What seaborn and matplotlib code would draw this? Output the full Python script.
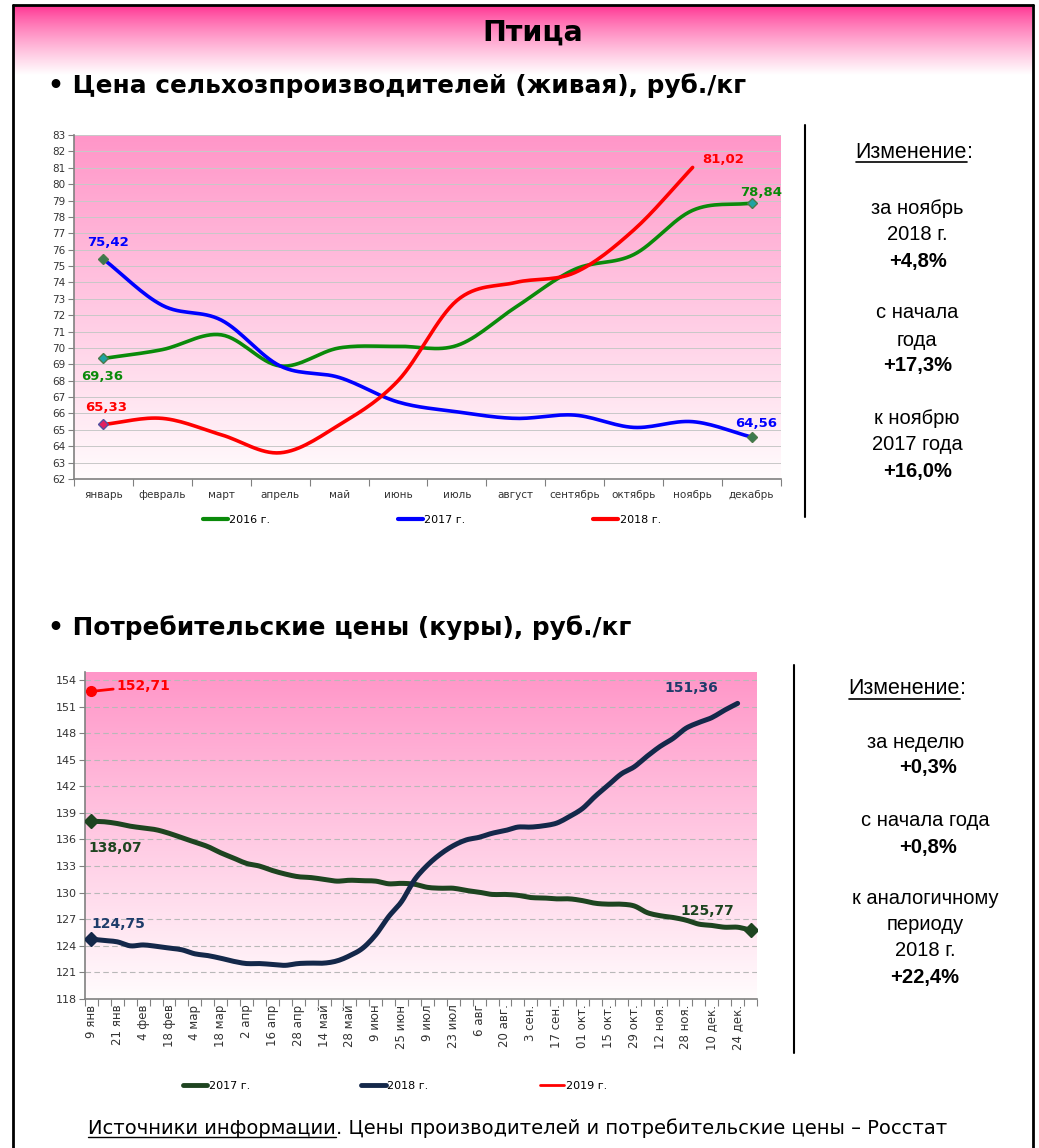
import numpy as np
import pandas as pd
import matplotlib
matplotlib.use("Agg")
import matplotlib.pyplot as plt
from matplotlib.lines import Line2D
import seaborn as sns

sns.set_style("white")
plt.rcParams["font.family"] = ["DejaVu Sans"]
plt.rcParams["text.color"] = "black"
plt.rcParams["xtick.color"] = "#333333"
plt.rcParams["ytick.color"] = "#333333"

# ---- данные: цена сельхозпроизводителей (живая), руб./кг
months = ["январь", "февраль", "март", "апрель", "май", "июнь", "июль",
          "август", "сентябрь", "октябрь", "ноябрь", "декабрь"]
prod_2016 = [69.36, 69.9, 70.8, 68.9, 70.0, 70.1, 70.15, 72.5, 74.8, 75.7, 78.4, 78.84]
prod_2017 = [75.42, 72.6, 71.7, 68.9, 68.2, 66.7, 66.1, 65.7, 65.9, 65.15, 65.5, 64.56]
prod_2018 = [65.33, 65.7, 64.7, 63.6, 65.3, 68.0, 72.9, 74.0, 74.6, 77.2, 81.02]

# ---- данные: потребительские цены (куры), руб./кг, по неделям
week_labels = ["9 янв", "21 янв", "4 фев", "18 фев", "4 мар", "18 мар", "2 апр",
               "16 апр", "28 апр", "14 май", "28 май", "9 июн", "25 июн", "9 июл",
               "23 июл", "6 авг", "20 авг.", "3 сен.", "17 сен.", "01 окт.",
               "15 окт.", "29 окт.", "12 ноя.", "28 ноя.", "10 дек.", "24 дек."]
cons_2017 = [138.07, 138.0, 137.8, 137.5, 137.3, 137.1, 136.7, 136.2, 135.7, 135.2,
             134.5, 133.9, 133.3, 133.0, 132.5, 132.1, 131.8, 131.7, 131.5, 131.3,
             131.4, 131.35, 131.3, 131.0, 131.05, 130.95, 130.6, 130.5, 130.5, 130.25,
             130.05, 129.8, 129.8, 129.7, 129.45, 129.4, 129.3, 129.3, 129.1, 128.8,
             128.7, 128.7, 128.5, 127.75, 127.4, 127.2, 126.9, 126.45, 126.3, 126.1,
             126.1, 125.77]
cons_2018 = [124.75, 124.6, 124.45, 124.0, 124.1, 123.95, 123.75, 123.55, 123.1, 122.9,
             122.6, 122.25, 122.0, 122.0, 121.9, 121.8, 122.0, 122.05, 122.05, 122.3,
             122.9, 123.75, 125.25, 127.3, 129.0, 131.45, 133.1, 134.35, 135.3, 135.95,
             136.25, 136.7, 137.0, 137.4, 137.4, 137.55, 137.85, 138.6, 139.5, 140.9,
             142.15, 143.4, 144.2, 145.4, 146.5, 147.4, 148.55, 149.2, 149.75, 150.6,
             151.36]
cons_2019 = [152.71]

W, H = 1039, 1148
fig = plt.figure(figsize=(W / 100, H / 100), dpi=100)


def fx(px):
    return px / W


def fy(py):
    return 1 - py / H


def smooth(y, n=16):
    # сглаженная линия (как в Excel) через точки ряда
    x = np.arange(len(y), dtype=float)
    y = np.asarray(y, dtype=float)
    if len(y) < 3:
        return x, y
    px = np.r_[2 * x[0] - x[1], x, 2 * x[-1] - x[-2]]
    py = np.r_[2 * y[0] - y[1], y, 2 * y[-1] - y[-2]]
    t = np.linspace(0, 1, n, endpoint=False)[:, None]
    xs, ys = [], []
    for i in range(1, len(x)):
        for arr, out in ((px, xs), (py, ys)):
            p0, p1, p2, p3 = arr[i - 1], arr[i], arr[i + 1], arr[i + 2]
            v = 0.5 * ((2 * p1) + (-p0 + p2) * t + (2 * p0 - 5 * p1 + 4 * p2 - p3) * t ** 2
                       + (-p0 + 3 * p1 - 3 * p2 + p3) * t ** 3)
            out.extend(v.ravel())
    xs.append(x[-1])
    ys.append(y[-1])
    return np.array(xs), np.array(ys)


def gradient(ax, top, bottom, extent):
    g = np.linspace(0, 1, 256)[:, None, None]
    img = np.array(top)[None, None, :] * (1 - g) + np.array(bottom)[None, None, :] * g
    ax.imshow(img / 255, extent=extent, aspect="auto", zorder=0, interpolation="bicubic")


def underline(txt, lw=1.2):
    fig.canvas.draw()
    bb = txt.get_window_extent()
    yline = bb.y0 + 1
    fig.add_artist(Line2D([bb.x0 / W, bb.x1 / W], [yline / H, yline / H],
                          color="black", lw=lw))


# ---- рамка и шапка
hax = fig.add_axes([fx(14), fy(75), fx(1032) - fx(14), fy(6) - fy(75)])
g = np.linspace(0, 1, 200)[:, None, None] ** 0.8
hdr = np.array([255, 50, 145])[None, None, :] * (1 - g) + np.array([255, 255, 255])[None, None, :] * g
hax.imshow(hdr / 255, aspect="auto", extent=[0, 1, 0, 1])
hax.axis("off")

for xs_, ys_ in (([13, 1033], [5, 5]), ([13, 13], [5, 1148]), ([1033, 1033], [5, 1148])):
    fig.add_artist(Line2D([fx(v) for v in xs_], [fy(v) for v in ys_], color="black", lw=2))

fig.text(fx(533), fy(33), "Птица", ha="center", va="center", fontsize=20.5, weight="bold")
fig.text(fx(48), fy(86), "• Цена сельхозпроизводителей (живая), руб./кг",
         ha="left", va="center", fontsize=17.8, weight="bold")
fig.text(fx(48), fy(628), "• Потребительские цены (куры), руб./кг",
         ha="left", va="center", fontsize=17.8, weight="bold")

# ---- верхний график
ax1 = fig.add_axes([fx(74), fy(479), fx(781) - fx(74), fy(135) - fy(479)])
gradient(ax1, (255, 150, 200), (255, 252, 253), [-0.5, 11.5, 62, 83])
ax1.set_xlim(-0.5, 11.5)
ax1.set_ylim(62, 83)
ax1.set_yticks(range(62, 84))
ax1.tick_params(axis="y", labelsize=7.5, length=4, color="#808080", left=True, pad=2)
ax1.set_xticks(np.arange(-0.5, 12, 1))
ax1.set_xticklabels([])
ax1.set_xticks(range(12), minor=True)
ax1.set_xticklabels(months, minor=True, fontsize=7.5)
ax1.tick_params(axis="x", which="major", length=5, color="#808080", bottom=True, direction="out")
ax1.tick_params(axis="x", which="minor", length=0, pad=8)
for v in range(63, 84):
    ax1.axhline(v, color="#C8C8C8", lw=0.7, zorder=1)
for s in ("top", "right"):
    ax1.spines[s].set_visible(False)
for s in ("left", "bottom"):
    ax1.spines[s].set_color("#808080")
    ax1.spines[s].set_linewidth(1.2)

series1 = [(prod_2016, "#0A8A0A", "2016 г."), (prod_2017, "#0000FF", "2017 г."),
           (prod_2018, "#FF0000", "2018 г.")]
for vals, col, lab in series1:
    sx, sy = smooth(vals)
    sns.lineplot(x=sx, y=sy, ax=ax1, color=col, lw=2.6, estimator=None, sort=False, zorder=3)

ax1.plot([0, 11], [prod_2016[0], prod_2016[-1]], ls="none", marker="D", ms=5,
         color="#1FA3A3", mec="#4A7A4A", zorder=4)
ax1.plot([0, 11], [prod_2017[0], prod_2017[-1]], ls="none", marker="D", ms=5,
         color="#3C7A50", mec="#4A7A4A", zorder=4)
ax1.plot([0], [prod_2018[0]], ls="none", marker="D", ms=5, color="#E02060",
         mec="#5050A0", zorder=4)

lab_kw = dict(textcoords="offset points", fontsize=9.5, weight="bold", zorder=5)
fmt = lambda v: f"{v:.2f}".replace(".", ",")
ax1.annotate(fmt(prod_2017[0]), (0, prod_2017[0]), xytext=(3, 7), ha="center",
             va="bottom", color="#0000FF", **lab_kw)
ax1.annotate(fmt(prod_2016[0]), (0, prod_2016[0]), xytext=(-1, -13), ha="center",
             va="center", color="#0A8A0A", **lab_kw)
ax1.annotate(fmt(prod_2018[0]), (0, prod_2018[0]), xytext=(2, 12), ha="center",
             va="center", color="#FF0000", **lab_kw)
ax1.annotate(fmt(prod_2018[-1]), (10, prod_2018[-1]), xytext=(7, 6), ha="left",
             va="center", color="#FF0000", **lab_kw)
ax1.annotate(fmt(prod_2016[-1]), (11, prod_2016[-1]), xytext=(7, 8), ha="center",
             va="center", color="#0A8A0A", **lab_kw)
ax1.annotate(fmt(prod_2017[-1]), (11, prod_2017[-1]), xytext=(3, 10), ha="center",
             va="center", color="#0000FF", **lab_kw)

h1 = [Line2D([], [], color=c, lw=3) for _, c, _ in series1]
fig.legend(h1, [l for _, _, l in series1], loc="center", bbox_to_anchor=(fx(432), fy(520)),
           ncol=3, frameon=False, fontsize=8, handlelength=2.2, handletextpad=0.15,
           columnspacing=11.5)

# ---- нижний график
ax2 = fig.add_axes([fx(85), fy(999), fx(757) - fx(85), fy(672) - fy(999)])
gradient(ax2, (255, 150, 200), (255, 252, 253), [-0.5, 51.5, 118, 154.9])
ax2.set_xlim(-0.5, 51.5)
ax2.set_ylim(118, 154.9)
ax2.set_yticks(range(118, 155, 3))
ax2.tick_params(axis="y", labelsize=8, length=4, color="#808080", left=True, pad=2)
ax2.set_xticks(np.arange(-0.5, 52, 1))
ax2.set_xticklabels([])
ax2.set_xticks(range(0, 51, 2), minor=True)
ax2.set_xticklabels(week_labels, minor=True, rotation=90, fontsize=8.5, va="top")
ax2.tick_params(axis="x", which="major", length=5, color="#808080", bottom=True, direction="out")
ax2.tick_params(axis="x", which="minor", length=0, pad=4)
for v in range(121, 155, 3):
    ax2.axhline(v, color="#B8B8B8", lw=0.8, ls=(0, (5, 3)), zorder=1)
for s in ("top", "right"):
    ax2.spines[s].set_visible(False)
for s in ("left", "bottom"):
    ax2.spines[s].set_color("#808080")
    ax2.spines[s].set_linewidth(1.2)

c17, c18, c19 = "#1E4420", "#14284A", "#FF0000"
for vals, col in ((cons_2017, c17), (cons_2018, c18)):
    sx, sy = smooth(vals, n=6)
    sns.lineplot(x=sx, y=sy, ax=ax2, color=col, lw=3.6, estimator=None, sort=False, zorder=3)
ax2.plot([0, 51], [cons_2017[0], cons_2017[-1]], ls="none", marker="D", ms=7, color=c17, zorder=4)
ax2.plot([0], [cons_2018[0]], ls="none", marker="D", ms=7, color=c18, zorder=4)
ax2.plot([0], [cons_2019[0]], ls="none", marker="o", ms=7, color=c19, zorder=4)

lab2 = dict(textcoords="offset points", fontsize=10, weight="bold", zorder=5)
ax2.annotate(fmt(cons_2019[0]), (0, cons_2019[0]), xytext=(18, 4), ha="left", va="center",
             color=c19, arrowprops=dict(arrowstyle="-", color=c19, lw=2, shrinkA=0, shrinkB=2),
             **lab2)
ax2.annotate(fmt(cons_2017[0]), (0, cons_2017[0]), xytext=(-2, -19), ha="left",
             va="center", color=c17, **lab2)
ax2.annotate(fmt(cons_2018[0]), (0, cons_2018[0]), xytext=(0, 11), ha="left",
             va="center", color="#1E3C6A", **lab2)
ax2.annotate(fmt(cons_2018[-1]), (50, cons_2018[-1]), xytext=(-14, 11), ha="right",
             va="center", color="#1E3C6A", **lab2)
ax2.annotate(fmt(cons_2017[-1]), (51, cons_2017[-1]), xytext=(-12, 14), ha="right",
             va="center", color=c17, **lab2)

h2 = [Line2D([], [], color=c, lw=lw) for c, lw in ((c17, 3.5), (c18, 3.5), (c19, 2))]
fig.legend(h2, ["2017 г.", "2018 г.", "2019 г."], loc="center",
           bbox_to_anchor=(fx(395), fy(1086)), ncol=3, frameon=False, fontsize=8,
           handlelength=2.2, handletextpad=0.15, columnspacing=10)

# ---- правые панели
for xline, y0, y1 in ((805, 125, 517), (794, 665, 1053)):
    fig.add_artist(Line2D([fx(xline)] * 2, [fy(y0), fy(y1)], color="black", lw=1.5))

side = dict(family=["Liberation Sans", "DejaVu Sans"], fontsize=14.5, va="center")


def heading(xc, yy):
    t = fig.text(fx(xc), fy(yy), "Изменение", ha="right", fontsize=15.5,
                 family=["Liberation Sans", "DejaVu Sans"], va="center")
    fig.text(fx(xc), fy(yy), ":", ha="left", fontsize=15.5,
             family=["Liberation Sans", "DejaVu Sans"], va="center")
    return t


t1 = heading(967, 152)
rows1 = [("за ноябрь", 209, "normal"), ("2018 г.", 234, "normal"), ("+4,8%", 261, "bold"),
         ("с начала", 313, "normal"), ("года", 340, "normal"), ("+17,3%", 366, "bold"),
         ("к ноябрю", 419, "normal"), ("2017 года", 445, "normal"), ("+16,0%", 471, "bold")]
for s, yy, w in rows1:
    xx = 918 if w == "bold" else 917
    fig.text(fx(xx), fy(yy), s, weight=w, ha="center", **side)

t2 = heading(960, 689)
rows2 = [("за неделю", 742, "normal", 916), ("+0,3%", 768, "bold", 928),
         ("с начала года", 821, "normal", 925), ("+0,8%", 847, "bold", 928),
         ("к аналогичному", 899, "normal", 925), ("периоду", 925, "normal", 925),
         ("2018 г.", 951, "normal", 925), ("+22,4%", 978, "bold", 925)]
for s, yy, w, xx in rows2:
    fig.text(fx(xx), fy(yy), s, weight=w, ha="center", **side)

# ---- источник
src1 = fig.text(fx(88), fy(1128), "Источники информации", ha="left", va="center", fontsize=14)
fig.canvas.draw()
bb = src1.get_window_extent()
fig.text(bb.x1 / W, fy(1128), ". Цены производителей и потребительские цены – Росстат",
         ha="left", va="center", fontsize=14)

underline(t1)
underline(t2)
underline(src1, lw=1)

fig.savefig("out.png", dpi=100)
